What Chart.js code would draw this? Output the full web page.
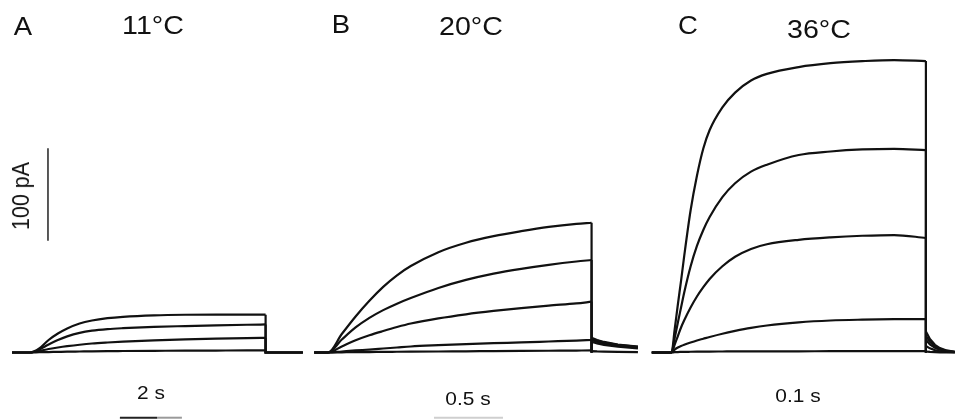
<!DOCTYPE html>
<html>
<head>
<meta charset="utf-8">
<script src="https://cdn.jsdelivr.net/npm/chart.js@4"></script>
<style>
  html, body { margin: 0; padding: 0; background: #fff; }
  #wrap { position: relative; width: 955px; height: 419px; overflow: hidden; }
  #wrap canvas { position: absolute; top: 0; }
  .lbl {
    position: absolute;
    font-family: "Liberation Sans", Arial, sans-serif;
    line-height: 1;
    white-space: nowrap;
    color: #111;
    transform: translate(-50%, -50%) scaleX(1.1);
  }
  .vert { transform: translate(-50%, -50%) scaleX(1.1) rotate(-90deg); }
</style>
</head>
<body>
<div id="wrap">
  <canvas id="panelA" width="310" height="419" style="left:0"></canvas>
  <canvas id="panelB" width="330" height="419" style="left:310px"></canvas>
  <canvas id="panelC" width="315" height="419" style="left:640px"></canvas>

  <div class="lbl" style="left:22.5px; top:26px; font-size:25px">A</div>
  <div class="lbl" style="left:153px; top:25px; font-size:26px">11°C</div>
  <div class="lbl" style="left:341px; top:24px; font-size:25px">B</div>
  <div class="lbl" style="left:470.5px; top:26px; font-size:26px">20°C</div>
  <div class="lbl" style="left:687.5px; top:25px; font-size:25px">C</div>
  <div class="lbl" style="left:818.5px; top:28.5px; font-size:26px">36°C</div>

  <div class="lbl vert" style="left:22px; top:195.5px; font-size:21.5px">100 pA</div>

  <div class="lbl" style="left:151px; top:391.5px; font-size:19px">2 s</div>
  <div class="lbl" style="left:467.5px; top:398px; font-size:19px">0.5 s</div>
  <div class="lbl" style="left:798px; top:395px; font-size:19px">0.1 s</div>
</div>

<script>
// Outward currents (pA) during the voltage step, one list per step level.
// 11 °C
const timeA = [0, 0.3, 0.6, 0.9, 1.2, 1.6, 2, 2.5, 3, 4, 5, 6, 7, 7.6];
const currentA1 = [0, 4.3, 13.5, 20.5, 26, 31.4, 34.6, 37.1, 38.6, 40.2, 40.8, 40.9, 40.9, 40.9];
const currentA2 = [0, 3.2, 8.6, 13.5, 17.4, 21.2, 23.6, 25.3, 26.3, 27.7, 28.6, 29.4, 30, 30.3];
const currentA3 = [0, 1.6, 3.8, 5.4, 6.8, 8.4, 9.7, 10.8, 11.7, 13.1, 14.1, 14.9, 15.5, 15.8];
const currentA4 = [0, 0.3, 0.5, 0.7, 0.9, 1.1, 1.3, 1.5, 1.6, 1.8, 2.0, 2.1, 2.2, 2.2];
const tailTimeA = [7.6, 8.8];
const tailA = [0, 0];

// 20 °C
const timeB = [0, 0.1, 0.2, 0.3, 0.4, 0.5, 0.6, 0.8, 1.0, 1.2, 1.4, 1.6, 1.8, 1.91];
const currentB1 = [0, 20, 39, 56, 71, 83.5, 93.5, 108.5, 118.7, 125.8, 131.2, 135.8, 139.1, 140.3];
const currentB2 = [0, 14, 27.1, 37.4, 45.8, 52.8, 58.9, 69.8, 78.5, 85.3, 90.5, 94.8, 98.4, 100];
const currentB3 = [0, 6.5, 13.2, 18.6, 23.2, 27.5, 31.3, 36.9, 41.3, 44.9, 48, 50.7, 53.1, 54.9];
const currentB4 = [0, 1.1, 2.2, 3.2, 4.3, 5.4, 6.5, 7.9, 9.1, 10.1, 10.9, 11.9, 12.9, 13.5];
const currentB5 = [0, 0.2, 0.4, 0.5, 0.7, 0.8, 0.9, 1.1, 1.3, 1.5, 1.7, 1.9, 2.1, 2.2];
const tailTimeB = [1.91, 1.95, 2.0, 2.1, 2.246];
const tailB1 = [16, 13.5, 11.4, 8.6, 6.3];
const tailB2 = [15, 12.8, 10.8, 8.2, 6];
const tailB3 = [13.5, 11.5, 9.8, 7.5, 5.5];
const tailB4 = [11.7, 9.8, 8.3, 6.3, 4.5];
const tailB5 = [1.5, 1.2, 1, 0.7, 0.5];

// 36 °C
const timeC = [0, 0.005, 0.01, 0.015, 0.02, 0.03, 0.04, 0.05, 0.06, 0.08, 0.1, 0.125, 0.15, 0.2, 0.25, 0.3, 0.35, 0.4];
const currentC1 = [0, 24.9, 51.9, 77.5, 104.4, 153.5, 191, 220.5, 240.5, 265, 281, 294, 301.2, 308.6, 312.8, 315, 316.2, 315.1];
const currentC2 = [0, 15.7, 32.4, 48.6, 64.9, 93, 115.2, 132.5, 146.5, 168, 183, 195.5, 203, 213.5, 217.3, 219.5, 220.2, 218.9];
const currentC3 = [0, 8.6, 17.8, 27, 34.8, 48.6, 60.5, 70.6, 79.5, 93.2, 103.5, 112, 117, 121.8, 124.5, 126.2, 127, 123.8];
const currentC4 = [0, 3.2, 5.4, 7, 8.4, 10.8, 13, 14.9, 16.8, 20.3, 23.3, 26.6, 29.2, 32.6, 34.6, 35.5, 36, 36.1];
const currentC5 = [0, 0.3, 0.5, 0.6, 0.7, 0.8, 0.9, 1, 1, 1.1, 1.2, 1.2, 1.3, 1.3, 1.4, 1.4, 1.4, 1.4];
const tailTimeC = [0.4, 0.4063, 0.4142, 0.422, 0.4325, 0.4456];
const tailC1 = [22.7, 14.5, 8.3, 4.8, 2.2, 0.8];
const tailC2 = [18, 11.5, 6.6, 3.8, 1.7, 0.6];
const tailC3 = [13.7, 8.7, 5, 2.9, 1.3, 0.5];
const tailC4 = [7, 4.5, 2.6, 1.3, 0.7, 0.3];
const tailC5 = [1, 0.6, 0.4, 0.2, 0.1, 0];

// calibration bars: 100 pA (panel A), 2 s and 0.5 s
const ampBar = { t: 0.58, from: 120.8, size: 100 };
const timeBarA = { from: 2.9, size: 2, level: -70.5 };
const timeBarB = { from: 0.768, size: 0.5, level: -70.5 };

// y range is the same for all panels so the pA scale matches
const yRange = { min: -71.9, max: 381.1 };

const INK = '#111';
const TRACE_WIDTH = 2.2;

function traceSets(lead, time, current, tailTime, tail) {
  const end = time[time.length - 1];
  const rise = [{ x: lead, y: 0 }].concat(time.map((t, i) => ({ x: t, y: current[i] })));
  const off = [{ x: end, y: current[current.length - 1] }, { x: end, y: 0 }]
    .concat(tailTime.map((t, i) => ({ x: t, y: tail[i] })));
  return [
    { data: rise, borderColor: INK, borderWidth: TRACE_WIDTH, pointRadius: 0, cubicInterpolationMode: 'monotone' },
    { data: off, borderColor: INK, borderWidth: TRACE_WIDTH, pointRadius: 0, tension: 0 }
  ];
}

function bar(points, color, width) {
  return { data: points, borderColor: color, borderWidth: width, pointRadius: 0, tension: 0 };
}

function makePanel(id, xMin, xMax, datasets) {
  return new Chart(document.getElementById(id), {
    type: 'line',
    data: { datasets },
    options: {
      responsive: false,
      animation: false,
      events: [],
      layout: { padding: 0 },
      plugins: { legend: { display: false }, tooltip: { enabled: false } },
      scales: {
        x: { type: 'linear', min: xMin, max: xMax, display: false },
        y: { type: 'linear', min: yRange.min, max: yRange.max, display: false }
      }
    }
  });
}

const splitA = timeBarA.from + timeBarA.size * 0.6;
makePanel('panelA', -0.9677, 9.032, [
  ...traceSets(-0.58, timeA, currentA1, tailTimeA, tailA),
  ...traceSets(-0.58, timeA, currentA2, tailTimeA, tailA),
  ...traceSets(-0.58, timeA, currentA3, tailTimeA, tailA),
  ...traceSets(-0.58, timeA, currentA4, tailTimeA, tailA),
  bar([{ x: ampBar.t, y: ampBar.from }, { x: ampBar.t, y: ampBar.from + ampBar.size }], '#222', 1.5),
  bar([{ x: timeBarA.from, y: timeBarA.level }, { x: splitA, y: timeBarA.level }], '#222', 2),
  bar([{ x: splitA, y: timeBarA.level }, { x: timeBarA.from + timeBarA.size, y: timeBarA.level }], '#9a9a9a', 2)
]);

makePanel('panelB', -0.1304, 2.2609, [
  ...traceSets(-0.10, timeB, currentB1, tailTimeB, tailB1),
  ...traceSets(-0.10, timeB, currentB2, tailTimeB, tailB2),
  ...traceSets(-0.10, timeB, currentB3, tailTimeB, tailB3),
  ...traceSets(-0.10, timeB, currentB4, tailTimeB, tailB4),
  ...traceSets(-0.10, timeB, currentB5, tailTimeB, tailB5),
  bar([{ x: timeBarB.from, y: timeBarB.level }, { x: timeBarB.from + timeBarB.size, y: timeBarB.level }], '#cfcfcf', 2)
]);

makePanel('panelC', -0.04953, 0.44575, [
  ...traceSets(-0.031, timeC, currentC1, tailTimeC, tailC1),
  ...traceSets(-0.031, timeC, currentC2, tailTimeC, tailC2),
  ...traceSets(-0.031, timeC, currentC3, tailTimeC, tailC3),
  ...traceSets(-0.031, timeC, currentC4, tailTimeC, tailC4),
  ...traceSets(-0.031, timeC, currentC5, tailTimeC, tailC5)
]);
</script>
</body>
</html>
